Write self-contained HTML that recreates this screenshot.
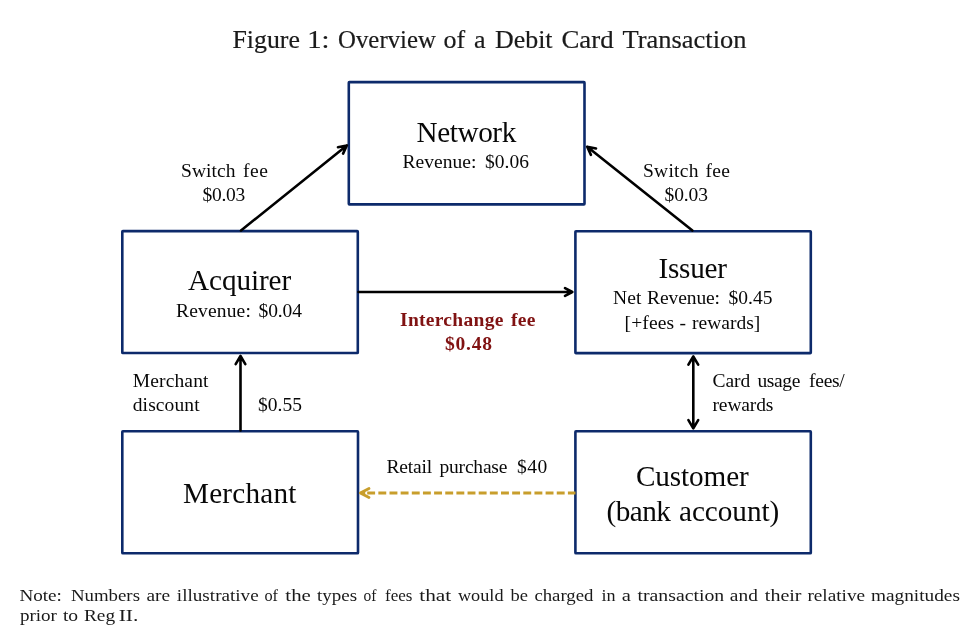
<!DOCTYPE html>
<html>
<head>
<meta charset="utf-8">
<style>
html,body{margin:0;padding:0;background:#fff;}
body{width:977px;height:637px;overflow:hidden;position:relative;}
svg{position:absolute;left:0;top:0;}
text{font-family:"Liberation Serif", serif;white-space:pre;}
svg{-webkit-font-smoothing:antialiased;will-change:transform;}
</style>
</head>
<body>
<svg width="977" height="637" viewBox="0 0 977 637">
<g fill="none" stroke="#0d2a6b" stroke-width="2.60" stroke-linejoin="round">
  <rect x="348.80" y="82.10" width="235.70" height="122.30" rx="0.6"/>
  <rect x="122.30" y="231.10" width="235.50" height="121.90" rx="0.6"/>
  <rect x="575.40" y="231.20" width="235.40" height="121.90" rx="0.6"/>
  <rect x="122.30" y="431.30" width="235.70" height="122.00" rx="0.6"/>
  <rect x="575.40" y="431.30" width="235.40" height="122.00" rx="0.6"/>
</g>
<g fill="none" stroke="#000" stroke-width="2.60" stroke-linecap="round" stroke-linejoin="round">
  <path d="M241.00 230.50L346.80 145.40 M337.99 147.24L346.80 145.40L343.11 153.61"/>
  <path d="M692.40 230.50L587.20 146.70 M590.93 154.89L587.20 146.70L596.02 148.50"/>
  <path d="M358.50 292.00L572.30 292.00 M565.03 288.21L572.30 292.00L565.03 295.79"/>
  <path d="M240.50 430.50L240.50 356.00 M235.68 364.19L240.50 356.00L245.32 364.19"/>
  <path d="M693.30 356.50L693.30 428.30 M698.19 420.16L693.30 428.30L688.41 420.16 M688.41 364.64L693.30 356.50L698.19 364.64"/>
</g>
<g fill="none" stroke="#c89e2c" stroke-width="2.8">
  <path d="M367.2 493H575.5" stroke-dasharray="7.9 3.25"/>
  <path d="M369.03 497.45L360.30 493.00L369.03 488.55" stroke-linecap="round" stroke-linejoin="round"/>
  <path d="M361.5 493H364" stroke-linecap="round"/>
</g>
<text id="net" x="416.50" y="141.80" font-size="29.2" fill="#080808" textLength="99.73" lengthAdjust="spacing">Network</text>
<text id="rev6_0" x="402.50" y="167.80" font-size="19.5" fill="#080808" textLength="73.84" lengthAdjust="spacing">Revenue:</text>
<text id="rev6_1" x="485.00" y="167.80" font-size="19.5" fill="#080808" textLength="44.12" lengthAdjust="spacing">$0.06</text>
<text id="swl_0" x="181.00" y="177.00" font-size="19.5" fill="#080808" textLength="54.42" lengthAdjust="spacing">Switch</text>
<text id="swl_1" x="243.00" y="177.00" font-size="19.5" fill="#080808" textLength="24.81" lengthAdjust="spacing">fee</text>
<text id="swl2" x="202.50" y="201.20" font-size="19.5" fill="#080808" textLength="42.68" lengthAdjust="spacing">$0.03</text>
<text id="swr_0" x="643.00" y="177.00" font-size="19.5" fill="#080808" textLength="55.42" lengthAdjust="spacing">Switch</text>
<text id="swr_1" x="705.50" y="177.00" font-size="19.5" fill="#080808" textLength="24.41" lengthAdjust="spacing">fee</text>
<text id="swr2" x="664.50" y="201.00" font-size="19.5" fill="#080808" textLength="43.47" lengthAdjust="spacing">$0.03</text>
<text id="acq" x="188.00" y="290.30" font-size="29.2" fill="#080808" textLength="103.20" lengthAdjust="spacing">Acquirer</text>
<text id="rev4_0" x="176.00" y="316.80" font-size="19.5" fill="#080808" textLength="74.84" lengthAdjust="spacing">Revenue:</text>
<text id="rev4_1" x="258.50" y="316.80" font-size="19.5" fill="#080808" textLength="43.52" lengthAdjust="spacing">$0.04</text>
<text id="iss" x="658.50" y="278.20" font-size="29.2" fill="#080808" textLength="68.39" lengthAdjust="spacing">Issuer</text>
<text id="netrev_0" x="613.00" y="304.00" font-size="19.5" fill="#080808" textLength="28.54" lengthAdjust="spacing">Net</text>
<text id="netrev_1" x="647.00" y="304.00" font-size="19.5" fill="#080808" textLength="73.04" lengthAdjust="spacing">Revenue:</text>
<text id="netrev_2" x="728.50" y="304.00" font-size="19.5" fill="#080808" textLength="44.08" lengthAdjust="spacing">$0.45</text>
<text id="fees_0" x="624.50" y="329.20" font-size="19.5" fill="#080808" textLength="49.69" lengthAdjust="spacing">[+fees</text>
<text id="fees_1" x="679.50" y="329.20" font-size="19.5" fill="#080808" textLength="11.30" lengthAdjust="spacing">-</text>
<text id="fees_2" x="692.00" y="329.20" font-size="19.5" fill="#080808" textLength="68.22" lengthAdjust="spacing">rewards]</text>
<text id="inter_0" x="400.00" y="325.60" font-size="19.5" fill="#801212" font-weight="bold" textLength="103.33" lengthAdjust="spacing">Interchange</text>
<text id="inter_1" x="511.00" y="325.60" font-size="19.5" fill="#801212" font-weight="bold" textLength="24.35" lengthAdjust="spacing">fee</text>
<text id="i48" x="445.00" y="350.40" font-size="19.5" fill="#801212" font-weight="bold" textLength="46.92" lengthAdjust="spacing">$0.48</text>
<text id="mdisc1" x="132.75" y="386.50" font-size="19.5" fill="#080808" textLength="75.70" lengthAdjust="spacing">Merchant</text>
<text id="mdisc2" x="132.75" y="410.70" font-size="19.5" fill="#080808" textLength="66.86" lengthAdjust="spacing">discount</text>
<text id="m55" x="258.00" y="411.00" font-size="19.5" fill="#080808" textLength="44.08" lengthAdjust="spacing">$0.55</text>
<text id="card1_0" x="712.50" y="387.20" font-size="19.5" fill="#080808" textLength="37.76" lengthAdjust="spacing">Card</text>
<text id="card1_1" x="757.50" y="387.20" font-size="19.5" fill="#080808" textLength="42.81" lengthAdjust="spacing">usage</text>
<text id="card1_2" x="809.00" y="387.20" font-size="19.5" fill="#080808" textLength="35.79" lengthAdjust="spacing">fees/</text>
<text id="card2" x="712.50" y="411.00" font-size="19.5" fill="#080808" textLength="60.92" lengthAdjust="spacing">rewards</text>
<text id="retail_0" x="386.50" y="472.70" font-size="19.5" fill="#080808" textLength="45.55" lengthAdjust="spacing">Retail</text>
<text id="retail_1" x="439.50" y="472.70" font-size="19.5" fill="#080808" textLength="67.91" lengthAdjust="spacing">purchase</text>
<text id="retail_2" x="517.00" y="472.70" font-size="19.5" fill="#080808" textLength="30.25" lengthAdjust="spacing">$40</text>
<text id="merch" x="183.00" y="502.70" font-size="29.2" fill="#080808" textLength="113.44" lengthAdjust="spacing">Merchant</text>
<text id="cust" x="636.00" y="486.00" font-size="29.2" fill="#080808" textLength="112.78" lengthAdjust="spacing">Customer</text>
<text id="bank_0" x="606.50" y="520.70" font-size="29.2" fill="#080808" textLength="64.46" lengthAdjust="spacing">(bank</text>
<text id="bank_1" x="679.00" y="520.70" font-size="29.2" fill="#080808" textLength="100.28" lengthAdjust="spacing">account)</text>
<text id="title0" x="0" y="0" transform="translate(232.50 48.10) scale(0.9941 1)" font-size="26" fill="#1a1a1a" stroke="#1a1a1a" stroke-width="0.2">Figure</text>
<text id="title1" x="0" y="0" transform="translate(307.30 48.10) scale(1.0964 1)" font-size="26" fill="#1a1a1a" stroke="#1a1a1a" stroke-width="0.2">1:</text>
<text id="title2" x="0" y="0" transform="translate(338.05 48.10) scale(0.9546 1)" font-size="26" fill="#1a1a1a" stroke="#1a1a1a" stroke-width="0.2">Overview</text>
<text id="title3" x="443.40" y="48.10" font-size="26" fill="#1a1a1a" stroke="#1a1a1a" stroke-width="0.2">of</text>
<text id="title4" x="473.90" y="48.10" font-size="26" fill="#1a1a1a" stroke="#1a1a1a" stroke-width="0.2">a</text>
<text id="title5" x="0" y="0" transform="translate(495.00 48.10) scale(0.9966 1)" font-size="26" fill="#1a1a1a" stroke="#1a1a1a" stroke-width="0.2">Debit</text>
<text id="title6" x="0" y="0" transform="translate(561.47 48.10) scale(1.0323 1)" font-size="26" fill="#1a1a1a" stroke="#1a1a1a" stroke-width="0.2">Card</text>
<text id="title7" x="0" y="0" transform="translate(622.50 48.10) scale(1.0181 1)" font-size="26" fill="#1a1a1a" stroke="#1a1a1a" stroke-width="0.2">Transaction</text>
<text id="n1_0" x="0" y="0" transform="translate(19.38 601.00) scale(1.1593 1)" font-size="16.5" fill="#1a1a1a">Note:</text>
<text id="n1_1" x="0" y="0" transform="translate(70.91 601.00) scale(1.1425 1)" font-size="16.5" fill="#1a1a1a">Numbers</text>
<text id="n1_2" x="0" y="0" transform="translate(146.48 601.00) scale(1.1742 1)" font-size="16.5" fill="#1a1a1a">are</text>
<text id="n1_3" x="0" y="0" transform="translate(176.87 601.00) scale(1.1595 1)" font-size="16.5" fill="#1a1a1a">illustrative</text>
<text id="n1_4" x="0" y="0" transform="translate(264.48 601.00) scale(0.9867 1)" font-size="16.5" fill="#1a1a1a">of</text>
<text id="n1_5" x="0" y="0" transform="translate(285.35 601.00) scale(1.2642 1)" font-size="16.5" fill="#1a1a1a">the</text>
<text id="n1_6" x="0" y="0" transform="translate(316.90 601.00) scale(1.1532 1)" font-size="16.5" fill="#1a1a1a">types</text>
<text id="n1_7" x="0" y="0" transform="translate(363.54 601.00) scale(0.9399 1)" font-size="16.5" fill="#1a1a1a">of</text>
<text id="n1_8" x="0" y="0" transform="translate(384.96 601.00) scale(1.0328 1)" font-size="16.5" fill="#1a1a1a">fees</text>
<text id="n1_9" x="0" y="0" transform="translate(419.27 601.00) scale(1.2929 1)" font-size="16.5" fill="#1a1a1a">that</text>
<text id="n1_10" x="0" y="0" transform="translate(457.95 601.00) scale(1.1052 1)" font-size="16.5" fill="#1a1a1a">would</text>
<text id="n1_11" x="0" y="0" transform="translate(510.47 601.00) scale(1.1214 1)" font-size="16.5" fill="#1a1a1a">be</text>
<text id="n1_12" x="0" y="0" transform="translate(534.40 601.00) scale(1.1373 1)" font-size="16.5" fill="#1a1a1a">charged</text>
<text id="n1_13" x="0" y="0" transform="translate(601.38 601.00) scale(1.0984 1)" font-size="16.5" fill="#1a1a1a">in</text>
<text id="n1_14" x="0" y="0" transform="translate(621.87 601.00) scale(1.2456 1)" font-size="16.5" fill="#1a1a1a">a</text>
<text id="n1_15" x="0" y="0" transform="translate(637.51 601.00) scale(1.1975 1)" font-size="16.5" fill="#1a1a1a">transaction</text>
<text id="n1_16" x="0" y="0" transform="translate(729.86 601.00) scale(1.1739 1)" font-size="16.5" fill="#1a1a1a">and</text>
<text id="n1_17" x="0" y="0" transform="translate(764.82 601.00) scale(1.2148 1)" font-size="16.5" fill="#1a1a1a">their</text>
<text id="n1_18" x="0" y="0" transform="translate(807.40 601.00) scale(1.1679 1)" font-size="16.5" fill="#1a1a1a">relative</text>
<text id="n1_19" x="0" y="0" transform="translate(870.92 601.00) scale(1.1709 1)" font-size="16.5" fill="#1a1a1a">magnitudes</text>
<text id="n2_0" x="0" y="0" transform="translate(19.89 620.50) scale(1.1561 1)" font-size="16.5" fill="#1a1a1a">prior</text>
<text id="n2_1" x="0" y="0" transform="translate(62.90 620.50) scale(1.1853 1)" font-size="16.5" fill="#1a1a1a">to</text>
<text id="n2_2" x="0" y="0" transform="translate(83.95 620.50) scale(1.1702 1)" font-size="16.5" fill="#1a1a1a">Reg</text>
<text id="n2_3" x="0" y="0" transform="translate(118.69 620.50) scale(1.3077 1)" font-size="16.5" fill="#1a1a1a">II.</text>
</svg>
</body>
</html>
